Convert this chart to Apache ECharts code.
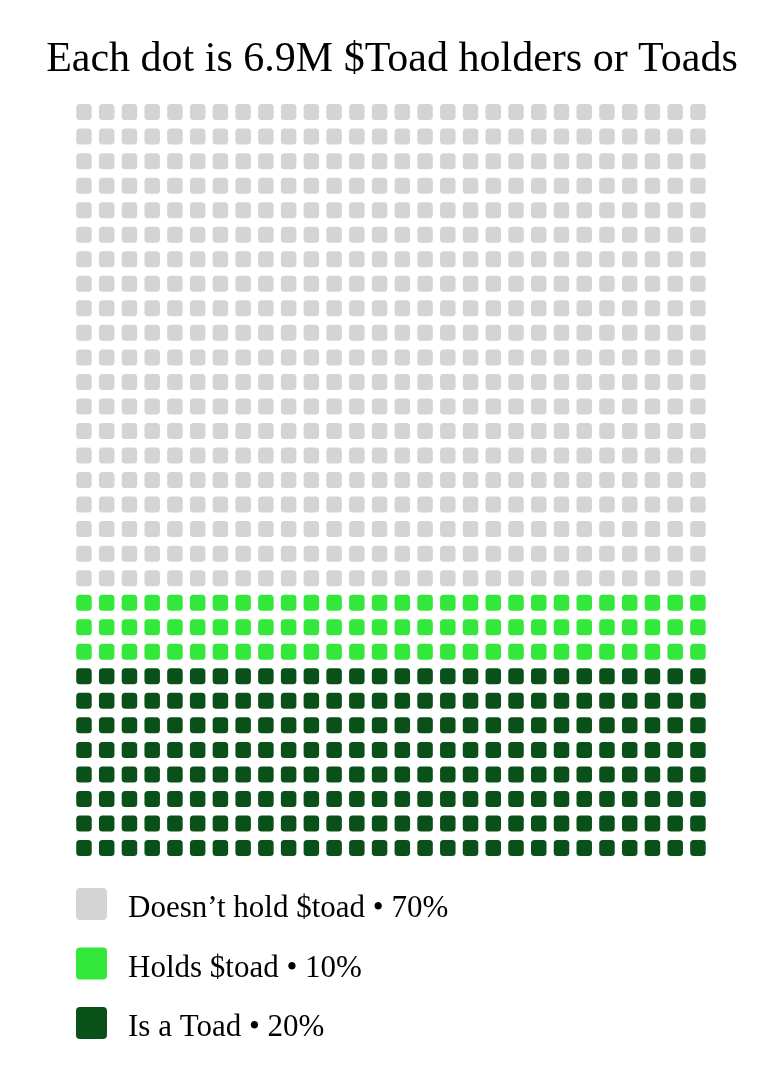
<!DOCTYPE html>
<html>
<head>
<meta charset="utf-8">
<title>Toad waffle</title>
<script src="https://cdn.jsdelivr.net/npm/echarts@6/dist/echarts.min.js"></script>
<style>
  html, body { margin: 0; padding: 0; background: #ffffff; }
  #chart { width: 784px; height: 1078px; }
</style>
</head>
<body>
<div id="chart"></div>
<script>
var titleText = 'Each dot is 6.9M $Toad holders or Toads';
var categories = ['Doesn’t hold $toad', 'Holds $toad', 'Is a Toad'];
var percents = [70, 10, 20];
// dots per group, as counted in the picture (28 per row)
var dotCounts = [560, 84, 224];
var columns = 28;
var colors = ['#d4d4d4', '#33e83a', '#0a5119'];

var totalDots = 0;
for (var i = 0; i < dotCounts.length; i++) {
    totalDots += dotCounts[i];
}
var rows = Math.ceil(totalDots / columns);

// cells are laid out row by row, top to bottom
var seriesList = [];
var legendNames = [];
var start = 0;
for (var k = 0; k < categories.length; k++) {
    var name = categories[k] + ' • ' + percents[k] + '%';
    legendNames.push(name);
    var cells = [];
    for (var n = start; n < start + dotCounts[k]; n++) {
        cells.push([n % columns, Math.floor(n / columns)]);
    }
    start += dotCounts[k];
    seriesList.push({
        name: name,
        type: 'custom',
        color: colors[k],
        silent: true,
        renderItem: function (params, api) {
            var c = api.coord([api.value(0), api.value(1)]);
            var w = 15.5, h = 16;
            return {
                type: 'rect',
                shape: { x: c[0] - w / 2, y: c[1] - h / 2, width: w, height: h, r: 3.5 },
                style: { fill: api.visual('color') }
            };
        },
        encode: { x: 0, y: 1 },
        data: cells
    });
}

var chart = echarts.init(document.getElementById('chart'), null, { renderer: 'canvas' });
chart.setOption({
    animation: false,
    backgroundColor: '#ffffff',
    title: {
        text: titleText,
        left: 'center',
        top: 34,
        textStyle: {
            fontFamily: 'Liberation Serif',
            fontWeight: 'normal',
            fontSize: 42,
            color: '#000000'
        }
    },
    grid: {
        left: 72.6,
        top: 99.8,
        width: 636.7,
        height: 760.5
    },
    xAxis: {
        type: 'value',
        min: -0.5,
        max: columns - 0.5,
        show: false
    },
    yAxis: {
        type: 'value',
        min: -0.5,
        max: rows - 0.5,
        inverse: true,
        show: false
    },
    legend: {
        orient: 'vertical',
        left: 71,
        top: 883,
        itemWidth: 31,
        itemHeight: 32,
        itemGap: 23,
        icon: 'path://M4,0 H27 Q31,0 31,4 V28 Q31,32 27,32 H4 Q0,32 0,28 V4 Q0,0 4,0 Z',
        selectedMode: false,
        data: legendNames,
        formatter: function (name) {
            return '{t|' + name + '}';
        },
        textStyle: {
            fontFamily: 'Liberation Serif',
            fontSize: 31,
            color: '#000000',
            padding: [0, 0, 0, 16],
            rich: {
                t: {
                    fontFamily: 'Liberation Serif',
                    fontSize: 31,
                    color: '#000000',
                    padding: [10, 0, 0, 0]
                }
            }
        }
    },
    series: seriesList
});
</script>
</body>
</html>
